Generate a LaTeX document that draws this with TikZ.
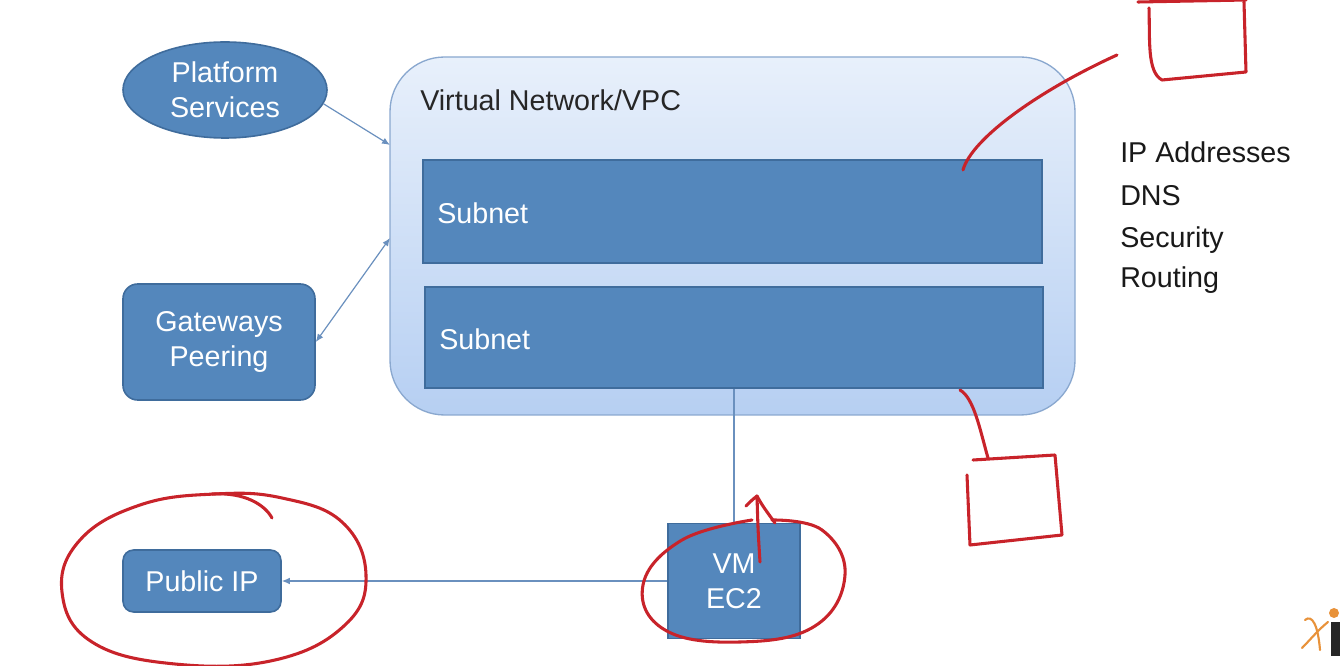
\documentclass[tikz,border=0pt]{standalone}
\usepackage{fontspec}
\setmainfont{Liberation Sans}
\usetikzlibrary{shapes.geometric,arrows.meta}
\definecolor{boxblue}{HTML}{5487BC}
\definecolor{boxedge}{HTML}{3F6C9C}
\definecolor{vpctop}{HTML}{E8F0FB}
\definecolor{vpcbot}{HTML}{B6CFF2}
\definecolor{vpcedge}{HTML}{8AA8CF}
\definecolor{conn}{HTML}{6A90BE}
\definecolor{ink}{HTML}{C8232A}
\definecolor{logoorange}{HTML}{E8923A}
\tikzset{
  bluebox/.style={draw=boxedge, line width=1.2pt, fill=boxblue, text=white, align=center, inner sep=0pt,
    font=\fontsize{21.5}{26}\selectfont},
  sublabel/.style={anchor=west, text=white, inner sep=0pt, font=\fontsize{21.5}{26}\selectfont},
  listtxt/.style={anchor=west, text=black!90, inner sep=0pt, font=\fontsize{21.5}{26}\selectfont},
  connector/.style={draw=conn, line width=0.9pt},
  tip/.style={-{Latex[length=6pt,width=5pt]}},
  redpen/.style={draw=ink, line width=2.3pt, line cap=round, line join=round}
}
\begin{document}
\begin{tikzpicture}[x=0.75pt,y=-0.75pt]
\useasboundingbox (0,0) rectangle (1340,666);
% VPC container
\node[draw=vpcedge, line width=1pt, top color=vpctop, bottom color=vpcbot, rounded corners=41pt,
  minimum width=513.75pt, minimum height=268.5pt, inner sep=0pt] (vpc) at (732.5,236) {};
\node[anchor=west, inner sep=0pt, text=black!85, font=\fontsize{21.5}{26}\selectfont] (vpclabel) at (420,100) {Virtual Network/VPC};
% Subnets
\node[bluebox, minimum width=464.25pt, minimum height=77.25pt] (sub1) at (732.5,211.5) {};
\node[sublabel] (sub1t) at (437,213) {Subnet};
\node[bluebox, minimum width=463.5pt, minimum height=75.75pt] (sub2) at (734,337.5) {};
\node[sublabel] (sub2t) at (439,339) {Subnet};
% Left nodes
\node[bluebox, ellipse, minimum width=153pt, minimum height=72pt] (plat) at (225,90) {Platform\\Services};
\node[bluebox, rounded corners=11pt, minimum width=144pt, minimum height=87pt] (gw) at (219,342) {Gateways\\Peering};
\node[bluebox, rounded corners=8pt, minimum width=118.5pt, minimum height=46.5pt] (pub) at (202,581) {Public IP};
\node[bluebox, minimum width=99pt, minimum height=86.25pt] (vm) at (734,581) {VM\\EC2};
% Right list
\node[listtxt] (l1) at (1120,152) {IP Addresses};
\node[listtxt] (l2) at (1120,196) {DNS};
\node[listtxt] (l3) at (1120,240) {Security};
\node[listtxt] (l4) at (1120,280) {Routing};
% connectors
\coordinate (vpcA) at (390,145);
\coordinate (vpcB) at (390,238);
\draw[connector, tip] (plat.-8) -- (vpcA);
\draw[connector, {Latex[length=6pt,width=5pt]}-{Latex[length=6pt,width=5pt]}] (gw.east) -- (vpcB);
\draw[connector] (sub2.south) -- (vm.north);
\draw[connector, tip] (vm.west) -- (pub.east);
% red annotations
\draw[redpen] (1138,2) -- (1246,0);
\draw[redpen] (1149,8) .. controls (1150,40) and (1147,72) .. (1162,80) -- (1246,72) -- (1244,2);
\draw[redpen] (963,170) .. controls (972,138) and (1040,90) .. (1117,55);
\draw[redpen] (960,390) .. controls (974,398) and (980,430) .. (988,458);
\draw[redpen] (973,460) -- (1055,455) -- (1062,535) -- (970,545) -- (967,475);
\draw[redpen] plot[smooth cycle, tension=0.7] coordinates {(215,494) (140,505) (80,540) (62,592) (92,642) (175,664) (275,660) (345,625) (366,575) (342,522) (282,498)};
\draw[redpen] (212,494) .. controls (245,492) and (265,505) .. (272,518);
\draw[redpen] plot[smooth, tension=0.7] coordinates {(752,520) (682,540) (643,585) (665,630) (740,642) (815,626) (845,575) (822,530) (772,520)};
\draw[redpen] (760,562) .. controls (758,530) .. (757,496) .. controls (752,500) .. (746,506);
\draw[redpen] (757,496) .. controls (762,505) .. (775,523);
% logo
\draw[logoorange, line width=1.6pt, line cap=round] (1305,620) .. controls (1312,614) and (1318,625) .. (1320,650);
\draw[logoorange, line width=1.6pt, line cap=round] (1302,648) .. controls (1310,640) and (1318,630) .. (1328,622);
\fill[logoorange] (1334,613) circle (5);
\fill[black!85] (1331,622) rectangle (1340,656);
\end{tikzpicture}
\end{document}
